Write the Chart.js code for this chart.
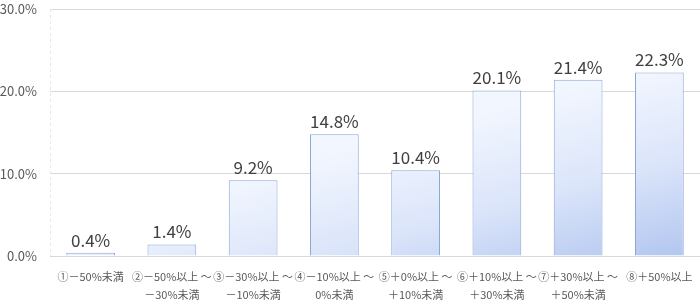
<!DOCTYPE html>
<html>
<head>
<meta charset="utf-8">
<script src="https://cdn.jsdelivr.net/npm/chart.js@4/dist/chart.umd.min.js"></script>
<style>
  html, body { margin: 0; padding: 0; background: #ffffff; }
  #wrap { width: 700px; height: 306px; position: relative; }
</style>
</head>
<body>
<div id="wrap"><canvas id="chart"></canvas></div>
<script>
// カテゴリ（2行ラベル）
const categories = [
    ['①－50%未満'],
    ['②－50%以上 ～', '－30%未満'],
    ['③－30%以上 ～', '－10%未満'],
    ['④－10%以上 ～', '0%未満'],
    ['⑤＋0%以上 ～', '＋10%未満'],
    ['⑥＋10%以上 ～', '＋30%未満'],
    ['⑦＋30%以上 ～', '＋50%未満'],
    ['⑧＋50%以上']
];
const values = [0.4, 1.4, 9.2, 14.8, 10.4, 20.1, 21.4, 22.3];
const yTicks = [0, 10, 20, 30];

const fontJP = "'Noto Sans CJK JP', 'Noto Sans', sans-serif";

// 棒ごとのグラデーション
const gradientPlugin = {
    id: 'barGradient',
    beforeDatasetsDraw(chart) {
        const ctx = chart.ctx;
        chart.getDatasetMeta(0).data.forEach(bar => {
            const left = bar.x - bar.width / 2;
            const g = ctx.createLinearGradient(left, bar.y, left + bar.width, bar.base);
            g.addColorStop(0, '#f2f6fe');
            g.addColorStop(0.5, '#dbe5fa');
            g.addColorStop(1, '#b2c6ef');
            bar.options.backgroundColor = g;
        });
    }
};

// 左の点線
const leftDash = {
    id: 'leftDash',
    beforeDatasetsDraw(chart) {
        const { ctx, chartArea } = chart;
        ctx.save();
        ctx.strokeStyle = '#e6e6e6';
        ctx.lineWidth = 1;
        ctx.setLineDash([3, 3]);
        ctx.beginPath();
        ctx.moveTo(chartArea.left + 0.5, chartArea.top);
        ctx.lineTo(chartArea.left + 0.5, chartArea.bottom);
        ctx.stroke();
        ctx.restore();
    }
};

// 値ラベル
const valueLabels = {
    id: 'valueLabels',
    afterDatasetsDraw(chart) {
        const ctx = chart.ctx;
        ctx.save();
        ctx.font = '17px ' + fontJP;
        ctx.fillStyle = '#404040';
        ctx.textAlign = 'center';
        ctx.textBaseline = 'bottom';
        chart.getDatasetMeta(0).data.forEach((bar, i) => {
            ctx.fillText(values[i].toFixed(1) + '%', bar.x, bar.y - 4);
        });
        ctx.restore();
    }
};

new Chart(document.getElementById('chart'), {
    type: 'bar',
    data: {
        labels: categories,
        datasets: [{
            data: values,
            backgroundColor: '#dbe5fa',
            borderColor: '#8aa7da',
            borderWidth: 1,
            categoryPercentage: 1.0,
            barPercentage: 0.6
        }]
    },
    options: {
        responsive: true,
        maintainAspectRatio: false,
        animation: false,
        layout: { padding: { top: 9, right: 0, left: 0, bottom: 0 } },
        plugins: { legend: { display: false }, tooltip: { enabled: false } },
        scales: {
            x: {
                grid: { display: false },
                border: { color: '#d9d9d9' },
                afterFit: axis => {
                    axis.height = 50;
                    axis.paddingLeft = 0;
                    axis.paddingRight = 0;
                },
                ticks: {
                    color: '#595959',
                    font: { family: fontJP, size: 11, lineHeight: 1.7 },
                    maxRotation: 0,
                    minRotation: 0,
                    autoSkip: false,
                    padding: 3
                }
            },
            y: {
                min: 0,
                max: 30,
                afterBuildTicks: axis => { axis.ticks = yTicks.map(v => ({ value: v })); },
                afterFit: axis => {
                    axis.width = 50;
                    axis.paddingTop = 0;
                    axis.paddingBottom = 0;
                },
                grid: { color: '#d9d9d9', drawTicks: false },
                border: { display: false },
                ticks: {
                    color: '#595959',
                    font: { family: fontJP, size: 13 },
                    padding: 13,
                    callback: v => v.toFixed(1) + '%'
                }
            }
        }
    },
    plugins: [gradientPlugin, leftDash, valueLabels]
});
</script>
</body>
</html>
